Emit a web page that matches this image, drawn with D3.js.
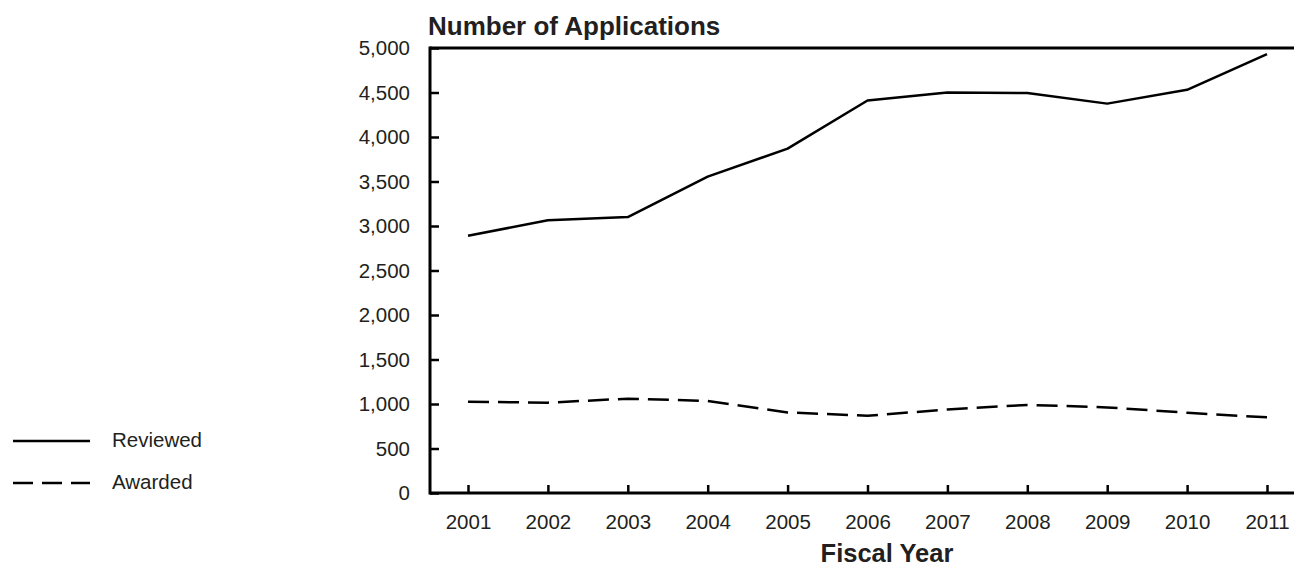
<!DOCTYPE html>
<html>
<head>
<meta charset="utf-8">
<script src="https://cdn.jsdelivr.net/npm/d3@7"></script>
<style>
  html, body { margin: 0; padding: 0; background: #fff; }
  svg { display: block; font-family: "Liberation Sans", Arial, sans-serif; }
</style>
</head>
<body>
<svg id="chart" width="1294" height="567"></svg>
<script>
// Fiscal years and application counts
const years = [2001, 2002, 2003, 2004, 2005, 2006, 2007, 2008, 2009, 2010, 2011];
const reviewed = [2890, 3065, 3100, 3555, 3870, 4410, 4500, 4495, 4375, 4530, 4930];
const awarded = [1025, 1015, 1060, 1035, 905, 868, 938, 990, 962, 902, 850];
const yTicks = [0, 500, 1000, 1500, 2000, 2500, 3000, 3500, 4000, 4500, 5000];
const seriesNames = ["Reviewed", "Awarded"];

const svg = d3.select("#chart");
const textColor = "#231f20";

const plotLeft = 430, plotRight = 1294, plotTop = 48, plotBottom = 493;

const x = d3.scaleLinear().domain([2001, 2011]).range([468, 1267]);
const y = d3.scaleLinear().domain([0, 5000]).range([plotBottom, plotTop]);

// Y axis with inward ticks
const yAxis = svg.append("g")
  .attr("transform", `translate(${plotLeft},0)`)
  .call(d3.axisLeft(y).tickValues(yTicks).tickSize(-9).tickPadding(20)
    .tickFormat(d3.format(",")));
yAxis.select(".domain").remove();
yAxis.selectAll(".tick line").attr("stroke", "#000").attr("stroke-width", 2.5);
yAxis.selectAll(".tick text").attr("fill", textColor).style("font-size", "20.5px");

// X axis with inward ticks
const xAxis = svg.append("g")
  .attr("transform", `translate(0,${plotBottom})`)
  .call(d3.axisBottom(x).tickValues(years).tickSize(-8).tickPadding(21)
    .tickFormat(d3.format("d")));
xAxis.select(".domain").remove();
xAxis.selectAll(".tick line").attr("stroke", "#000").attr("stroke-width", 2.5);
xAxis.selectAll(".tick text").attr("fill", textColor).style("font-size", "20.5px");

// Frame: left, bottom and top rules
const frame = svg.append("g").attr("stroke", "#000").attr("stroke-width", 3);
frame.append("line").attr("x1", plotLeft).attr("x2", plotLeft)
  .attr("y1", plotTop - 1.5).attr("y2", plotBottom + 1.5);
frame.append("line").attr("x1", plotLeft).attr("x2", plotRight)
  .attr("y1", plotBottom).attr("y2", plotBottom);
frame.append("line").attr("x1", plotLeft).attr("x2", plotRight)
  .attr("y1", plotTop).attr("y2", plotTop);

// Series lines
const line = d3.line().x((d, i) => x(years[i])).y(d => y(d));
svg.append("path").datum(reviewed)
  .attr("fill", "none").attr("stroke", "#000").attr("stroke-width", 2.5)
  .attr("stroke-linejoin", "round").attr("d", line);
svg.append("path").datum(awarded)
  .attr("fill", "none").attr("stroke", "#000").attr("stroke-width", 2.5)
  .attr("stroke-dasharray", "21,9").attr("d", line);

// Titles
svg.append("text").attr("x", 428).attr("y", 35)
  .attr("fill", textColor).style("font-size", "26px").style("font-weight", "bold")
  .text("Number of Applications");
svg.append("text").attr("x", 887).attr("y", 562).attr("text-anchor", "middle")
  .attr("fill", textColor).style("font-size", "25.5px").style("font-weight", "bold")
  .text("Fiscal Year");

// Legend
const legend = svg.append("g");
seriesNames.forEach((name, i) => {
  const ly = 441 + i * 42;
  legend.append("line").attr("x1", 13).attr("x2", 90).attr("y1", ly).attr("y2", ly)
    .attr("stroke", "#000").attr("stroke-width", 2.5)
    .attr("stroke-dasharray", i === 1 ? "20,9" : null);
  legend.append("text").attr("x", 112).attr("y", ly + 6)
    .attr("fill", textColor).style("font-size", "20.5px").text(name);
});
</script>
</body>
</html>
